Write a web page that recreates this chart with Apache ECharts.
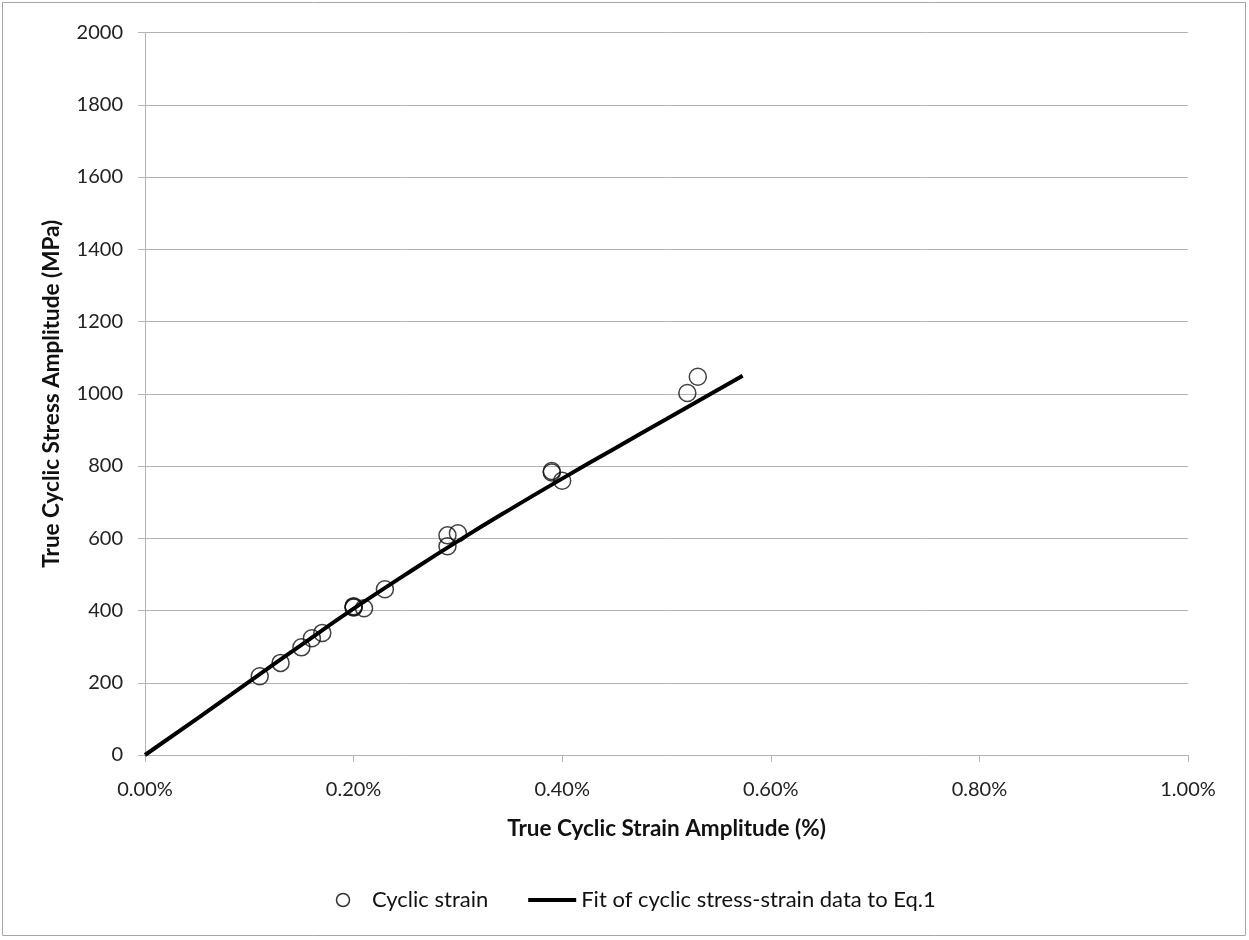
<!DOCTYPE html>
<html>
<head>
<meta charset="utf-8">
<script src="https://cdn.jsdelivr.net/npm/echarts@6/dist/echarts.min.js"></script>
<style>
  html, body { margin: 0; padding: 0; background: #fff; }
  #chart { width: 1249px; height: 940px; }
</style>
</head>
<body>
<div id="chart"></div>
<script>
// Measured cyclic stress-strain points (strain as a fraction, stress in MPa)
const strainData = [0.0011, 0.0013, 0.0015, 0.0016, 0.0017, 0.0020, 0.0020, 0.0020, 0.0021, 0.0023,
                    0.0029, 0.0029, 0.0030, 0.0039, 0.0039, 0.0040, 0.0052, 0.0053];
const stressData = [218, 255, 298, 323, 338, 408, 412, 410, 406, 459,
                    608, 578, 614, 782, 786, 759, 1002, 1047];

// Fitted curve (Eq.1), sampled along the strain range
const fitStrain = [0, 0.0005, 0.0010, 0.0015, 0.0020, 0.0025, 0.0030, 0.0035, 0.0040, 0.0045, 0.0050, 0.00573];
const fitStress = [0, 101, 203, 305, 405, 500, 592, 680, 765, 848, 930, 1050];

const xTicks = [0, 0.002, 0.004, 0.006, 0.008, 0.010];
const yTicks = [0, 200, 400, 600, 800, 1000, 1200, 1400, 1600, 1800, 2000];

const FONT = 'Lato, "Open Sans", sans-serif';
const GRAY = '#b3b3b3';

const chart = echarts.init(document.getElementById('chart'), null, { renderer: 'canvas' });

chart.setOption({
  backgroundColor: '#fff',
  animation: false,
  graphic: [{
    type: 'rect',
    shape: { x: 2.5, y: 2.5, width: 1243, height: 933 },
    style: { fill: 'none', stroke: '#a6a6a6', lineWidth: 1 },
    silent: true
  }],
  grid: { left: 145, right: 61, top: 32.5, bottom: 185 },
  legend: {
    top: 884,
    left: 329,
    itemGap: 40,
    itemWidth: 48,
    itemHeight: 13,
    textStyle: { fontFamily: FONT, fontSize: 22, color: '#111' },
    data: [
      { name: 'Cyclic strain', icon: 'circle',
        itemStyle: { color: 'none', borderColor: '#000', borderWidth: 1.5 } },
      { name: 'Fit of cyclic stress-strain data to Eq.1',
        icon: 'path://M0,0H48V4H0Z', itemStyle: { color: '#000' } }
    ]
  },
  xAxis: {
    type: 'value',
    min: xTicks[0],
    max: xTicks[xTicks.length - 1],
    interval: xTicks[1] - xTicks[0],
    name: 'True Cyclic Strain Amplitude (%)',
    nameLocation: 'middle',
    nameGap: 62,
    nameTextStyle: { fontFamily: FONT, fontSize: 22.5, fontWeight: 'bold', color: '#111' },
    axisLine: { lineStyle: { color: GRAY, width: 1 } },
    axisTick: { show: true, inside: false, length: 7, lineStyle: { color: GRAY } },
    axisLabel: {
      fontFamily: FONT, fontSize: 20, color: '#222', margin: 25,
      formatter: v => (v * 100).toFixed(2) + '%'
    },
    splitLine: { show: false }
  },
  yAxis: {
    type: 'value',
    min: yTicks[0],
    max: yTicks[yTicks.length - 1],
    interval: yTicks[1] - yTicks[0],
    name: 'True Cyclic Stress Amplitude (MPa)',
    nameLocation: 'middle',
    nameGap: 82,
    nameTextStyle: { fontFamily: FONT, fontSize: 22.5, fontWeight: 'bold', color: '#111' },
    axisLine: { show: true, lineStyle: { color: GRAY, width: 1 } },
    axisTick: { show: true, inside: false, length: 7, lineStyle: { color: GRAY } },
    axisLabel: {
      fontFamily: FONT, fontSize: 20, color: '#222', margin: 22,
      formatter: v => String(v)
    },
    splitLine: { show: true, lineStyle: { color: GRAY, width: 1 } }
  },
  series: [
    {
      name: 'Cyclic strain',
      type: 'scatter',
      symbol: 'circle',
      symbolSize: 17,
      itemStyle: { color: 'none', borderColor: '#111', borderWidth: 1.5 },
      data: strainData.map((x, i) => [x, stressData[i]]),
      z: 2
    },
    {
      name: 'Fit of cyclic stress-strain data to Eq.1',
      type: 'line',
      smooth: true,
      showSymbol: false,
      symbol: 'none',
      lineStyle: { color: '#000', width: 4 },
      itemStyle: { color: '#000' },
      data: fitStrain.map((x, i) => [x, fitStress[i]]),
      z: 3
    }
  ]
});
</script>
</body>
</html>
